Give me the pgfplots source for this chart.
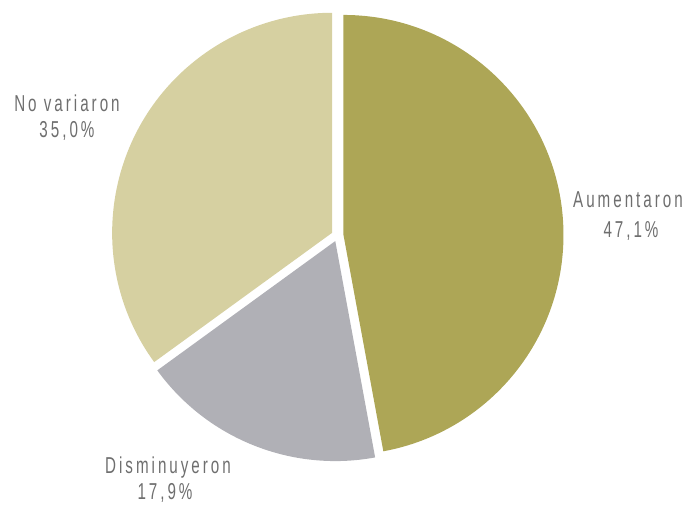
\documentclass[border=0pt]{standalone}
\usepackage{pgfplots}
\pgfplotsset{compat=1.18}
\usepackage{fontspec}
\setmainfont{Liberation Sans}[FakeStretch=0.66, LetterSpace=13]
\definecolor{olive}{RGB}{173,166,86}
\definecolor{beige}{RGB}{214,208,161}
\definecolor{greyb}{RGB}{176,176,182}
\definecolor{txt}{RGB}{110,110,110}
% values (percent)
\def\vA{47.1}% Aumentaron
\def\vB{17.9}% Disminuyeron
\def\vC{35.0}% No variaron
\pgfmathsetmacro{\aS}{90}
\pgfmathsetmacro{\aE}{90-3.6*\vA}
\pgfmathsetmacro{\bE}{\aE-3.6*\vB}
\pgfmathsetmacro{\cE}{\bE-3.6*\vC}
\pgfmathsetmacro{\aM}{(\aS+\aE)/2}
\pgfmathsetmacro{\bM}{(\aE+\bE)/2}
\pgfmathsetmacro{\cM}{(\bE+\cE)/2}
\pgfmathsetmacro{\R}{220}
\pgfmathsetmacro{\cx}{337.5}
\pgfmathsetmacro{\cy}{273.5}
\pgfmathsetmacro{\d}{6}
\pgfmathsetmacro{\axx}{\cx+\d*cos(\aM)}
\pgfmathsetmacro{\axy}{\cy+\d*sin(\aM)}
\pgfmathsetmacro{\bxx}{\cx+\d*cos(\bM)}
\pgfmathsetmacro{\bxy}{\cy+\d*sin(\bM)}
\pgfmathsetmacro{\cxx}{\cx+\d*cos(\cM)}
\pgfmathsetmacro{\cxy}{\cy+\d*sin(\cM)}
\begin{document}
\begin{tikzpicture}
\begin{axis}[
  x=1pt, y=1pt,
  xmin=0, xmax=687, ymin=0, ymax=509,
  enlargelimits=false,
  hide axis,
  clip=false,
]
\path (axis cs:0,0) rectangle (axis cs:687,509);
\fill[olive] (axis cs:\axx,\axy) -- ++(\aS:\R pt) arc[start angle=\aS, end angle=\aE, radius=\R pt] -- cycle;
\fill[greyb] (axis cs:\bxx,\bxy) -- ++(\aE:\R pt) arc[start angle=\aE, end angle=\bE, radius=\R pt] -- cycle;
\fill[beige] (axis cs:\cxx,\cxy) -- ++(\bE:\R pt) arc[start angle=\bE, end angle=\cE, radius=\R pt] -- cycle;
\begin{scope}[every node/.style={anchor=base, text=txt, font=\fontsize{23}{30}\selectfont, inner sep=0pt}]
\node at (axis cs:628,301) {Aumentaron};
\node at (axis cs:631,271) {47,1\%};
\node at (axis cs:67,397) {No variaron};
\node at (axis cs:67,371) {35,0\%};
\node at (axis cs:168,36) {Disminuyeron};
\node at (axis cs:165,10) {17,9\%};
\end{scope}
\end{axis}
\end{tikzpicture}
\end{document}
